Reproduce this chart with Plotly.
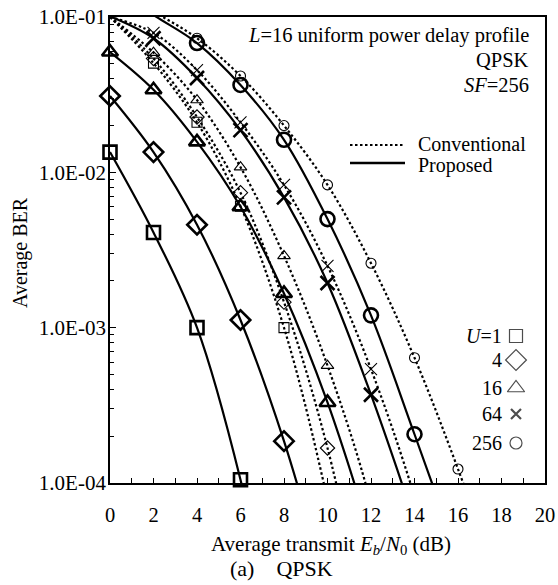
import plotly.graph_objects as go

# ---------------- data ----------------
ebn0_db = [0, 2, 4, 6, 8, 10, 12, 14, 16, 18]
user_labels = ["<i>U</i>=1", "4", "16", "64", "256"]

# Proposed (solid lines, bold markers)
prop_u1 = [1.35e-2, 4.1e-3, 1.0e-3, 1.05e-4, 5e-6]
prop_u4 = [3.1e-2, 1.35e-2, 4.6e-3, 1.12e-3, 1.86e-4, 2e-5]
prop_u16 = [5.95e-2, 3.4e-2, 1.57e-2, 6.0e-3, 1.66e-3, 3.3e-4, 4.5e-5]
prop_u64 = [1.01e-1, 7.3e-2, 4.05e-2, 1.87e-2, 6.9e-3, 1.94e-3, 3.7e-4, 5.7e-5]
prop_u256 = [1.6e-1, 1.03e-1, 6.8e-2, 3.65e-2, 1.62e-2, 5.0e-3, 1.2e-3, 2.06e-4, 3.4e-5]

# Conventional (dotted lines, thin markers)
conv_u1 = [1.0e-1, 5.05e-2, 2.1e-2, 6.05e-3, 1.0e-3, 7.8e-5, 3e-6]
conv_u4 = [1.0e-1, 5.4e-2, 2.27e-2, 7.4e-3, 1.46e-3, 1.68e-4, 9e-6]
conv_u16 = [1.0e-1, 5.9e-2, 2.92e-2, 1.08e-2, 2.9e-3, 5.7e-4, 7.4e-5, 4e-6]
conv_u64 = [1.0e-1, 7.9e-2, 4.55e-2, 2.1e-2, 8.3e-3, 2.5e-3, 5.4e-4, 8.2e-5, 8e-6]
conv_u256 = [1.5e-1, 1.08e-1, 7.3e-2, 4.17e-2, 2.0e-2, 8.3e-3, 2.6e-3, 6.4e-4, 1.23e-4, 2e-5]

x_ticks = [0, 2, 4, 6, 8, 10, 12, 14, 16, 18, 20]
y_ticks = [1e-4, 1e-3, 1e-2, 1e-1]
y_ticktext = ["1.0E-04", "1.0E-03", "1.0E-02", "1.0E-01"]

# ---------------- styles ----------------
FONT = "Liberation Serif, Times New Roman, serif"
symbols = ["square-open", "diamond-open", "triangle-up-open", "x-thin-open", "circle-open"]
prop_sizes = [13, 15, 14, 14, 14]
conv_sizes = [10, 11, 11, 12, 10]
legend_sizes = [13, 16, 15, 10, 12]

prop_series = [prop_u1, prop_u4, prop_u16, prop_u64, prop_u256]
conv_series = [conv_u1, conv_u4, conv_u16, conv_u64, conv_u256]

YMIN, YMAX = 1e-4, 1e-1

def visible(xs, ys):
    pts = [(x, y) for x, y in zip(xs, ys) if YMIN * 0.99 <= y <= YMAX * 1.0001]
    return [p[0] for p in pts], [p[1] for p in pts]

fig = go.Figure()

def add_series(ys, symbol, size, dash, lw, mlw):
    xs = ebn0_db[:len(ys)]
    fig.add_trace(go.Scatter(
        x=xs, y=ys, mode="lines", line=dict(color="black", width=lw, dash=dash, shape="spline"),
        showlegend=False, hoverinfo="skip", cliponaxis=True))
    vx, vy = visible(xs, ys)
    fig.add_trace(go.Scatter(
        x=vx, y=vy, mode="markers",
        marker=dict(symbol=symbol, size=size, color="black", line=dict(color="black", width=mlw)),
        showlegend=False, cliponaxis=False))

for ys, sym, sz in zip(conv_series, symbols, conv_sizes):
    add_series(ys, sym, sz, "2.5px,2.5px", 2.2, 1.1)
for ys, sym, sz in zip(prop_series, symbols, prop_sizes):
    add_series(ys, sym, sz, "solid", 2.2, 2.6)

# ---------------- legend (markers on an overlay axis) ----------------
leg_y_px = [336, 360, 388, 414, 443]
X0, X1, Y0, Y1 = 110, 545, 17, 483
def px_x(p): return (p - X0) / (X1 - X0)
def px_y(p): return (Y1 - p) / (Y1 - Y0)

fig.add_trace(go.Scatter(
    x=[px_x(516)] * 5, y=[px_y(p) for p in leg_y_px], mode="markers", xaxis="x2", yaxis="y2",
    marker=dict(symbol=symbols, size=legend_sizes, color="black",
                line=dict(color="black", width=[1.2, 1.2, 1.2, 2.2, 1.2])),
    showlegend=False, hoverinfo="skip", cliponaxis=False))

annotations = []
for lab, py in zip(user_labels, leg_y_px):
    annotations.append(dict(x=px_x(504), y=px_y(py), xref="paper", yref="paper", text=lab,
                            showarrow=False, xanchor="right", yanchor="middle",
                            font=dict(family=FONT, size=20, color="black")))

top_texts = ["<i>L</i>=16 uniform power delay profile", "QPSK", "<i>SF</i>=256"]
for t, py in zip(top_texts, [35, 60, 85]):
    annotations.append(dict(x=px_x(531), y=px_y(py), xref="paper", yref="paper", text=t,
                            showarrow=False, xanchor="right", yanchor="middle",
                            font=dict(family=FONT, size=20.5, color="black")))

for t, py in zip(["Conventional", "Proposed"], [144, 165]):
    annotations.append(dict(x=px_x(416), y=px_y(py), xref="paper", yref="paper", text=t,
                            showarrow=False, xanchor="left", yanchor="middle",
                            font=dict(family=FONT, size=20, color="black")))

annotations.append(dict(x=px_x(20), y=px_y(253), xref="paper", yref="paper", text="Average BER",
                        showarrow=False, textangle=-90, xanchor="center", yanchor="middle",
                        font=dict(family=FONT, size=20, color="black")))
annotations.append(dict(x=px_x(331), y=px_y(545), xref="paper", yref="paper",
                        text="Average transmit <i>E<sub>b</sub></i>/<i>N</i><sub>0</sub> (dB)",
                        showarrow=False, xanchor="center", yanchor="middle",
                        font=dict(family=FONT, size=21, color="black")))
annotations.append(dict(x=px_x(281), y=px_y(568), xref="paper", yref="paper",
                        text="(a)\u00a0\u00a0\u00a0\u00a0QPSK",
                        showarrow=False, xanchor="center", yanchor="middle",
                        font=dict(family=FONT, size=22, color="black")))

shapes = [
    dict(type="line", xref="paper", yref="paper", x0=px_x(350), x1=px_x(404), y0=px_y(145), y1=px_y(145),
         line=dict(color="black", width=2.2, dash="2.5px,2.5px")),
    dict(type="line", xref="paper", yref="paper", x0=px_x(350), x1=px_x(405), y0=px_y(163), y1=px_y(163),
         line=dict(color="black", width=2.4)),
]

minor_y = [m * 10 ** e for e in (-4, -3, -2) for m in range(2, 10)]

fig.update_layout(
    width=558, height=585,
    margin=dict(l=X0, r=558 - X1, t=Y0, b=585 - Y1, autoexpand=False),
    paper_bgcolor="white", plot_bgcolor="white",
    font=dict(family=FONT, size=20, color="black"),
    showlegend=False,
    annotations=annotations, shapes=shapes,
    xaxis=dict(range=[0, 20], tickvals=x_ticks, ticktext=[str(v) for v in x_ticks],
               ticks="inside", ticklen=5, tickwidth=1.2, tickcolor="black",
               minor=dict(dtick=1, ticks="inside", ticklen=5, tickwidth=1.2, tickcolor="black"),
               showline=True, linecolor="black", linewidth=1.8, mirror=True, automargin=False,
               showgrid=False, zeroline=False, ticklabelstandoff=12,
               tickfont=dict(family=FONT, size=20.5, color="black")),
    yaxis=dict(type="log", range=[-4, -1], tickvals=y_ticks, ticktext=y_ticktext,
               ticks="inside", ticklen=6, tickwidth=1.2, tickcolor="black",
               minor=dict(tickvals=minor_y, ticks="inside", ticklen=4, tickwidth=1.2, tickcolor="black"),
               showline=True, linecolor="black", linewidth=1.8, mirror=True, automargin=False,
               showgrid=False, zeroline=False, ticklabelstandoff=-2,
               tickfont=dict(family=FONT, size=21, color="black")),
    xaxis2=dict(overlaying="x", range=[0, 1], visible=False, anchor="y2"),
    yaxis2=dict(overlaying="y", range=[0, 1], visible=False, anchor="x2"),
)

fig.write_html("out.html", config={"displayModeBar": False},
               post_script="document.body.style.margin='0';")
